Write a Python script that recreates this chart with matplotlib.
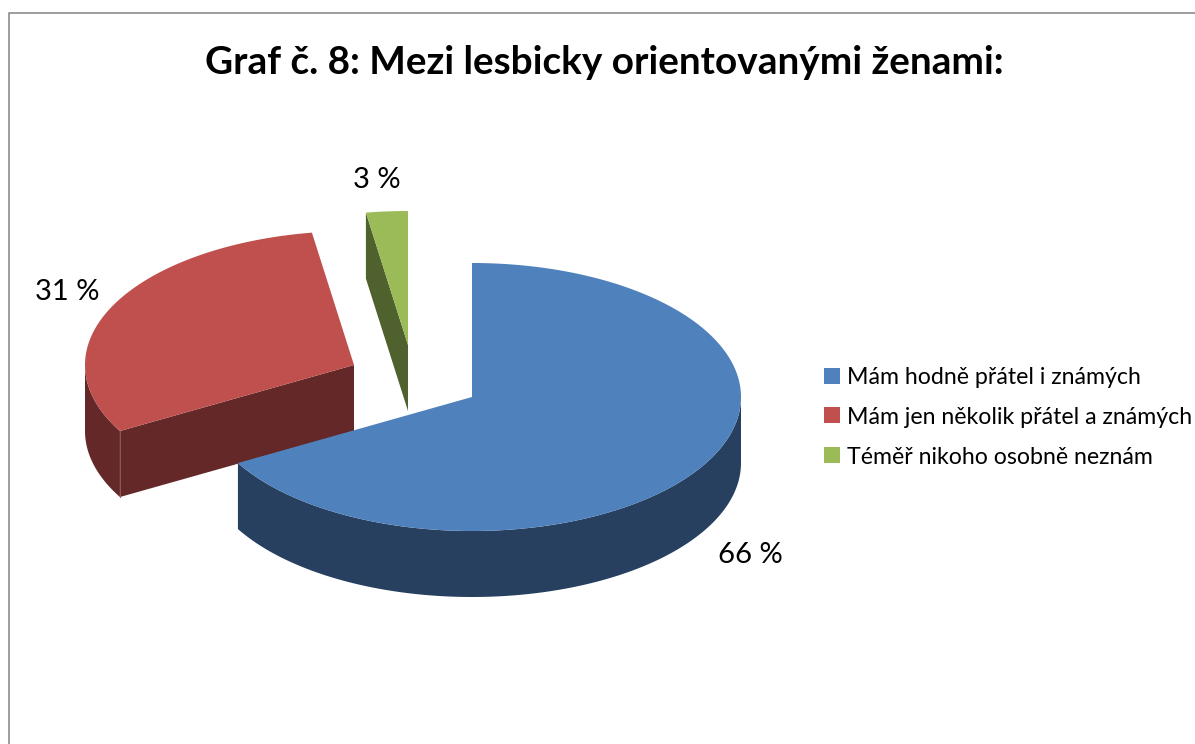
import numpy as np
import matplotlib
matplotlib.use("Agg")
import matplotlib.pyplot as plt
from matplotlib.patches import Polygon, Rectangle

plt.rcParams["font.family"] = ["Lato", "DejaVu Sans"]

title = "Graf č. 8: Mezi lesbicky orientovanými ženami:"
categories = ["Mám hodně přátel i známých", "Mám jen několik přátel a známých", "Téměř nikoho osobně neznám"]
shares = [66.8, 30.7, 2.5]
share_labels = ["66 %", "31 %", "3 %"]

top_colors = ["#4F81BD", "#C0504D", "#9BBB59"]
side_colors = ["#274060", "#632827", "#4F612C"]
apexes = [(472, 397), (354, 365), (408, 345)]
label_pos = [(750, 555), (67, 292), (377, 180)]
legend_y = [376, 415, 455]

RX, RY, DEPTH = 269, 134, 66


def rim(apex, t):
    # t in degrees, clockwise from the top of the ellipse
    t = np.radians(t)
    return np.column_stack([apex[0] + RX * np.sin(t), apex[1] - RY * np.cos(t)])


def drop(pts):
    return pts + np.array([0, DEPTH])


fig = plt.figure(figsize=(11.95, 7.44), dpi=100)
ax = fig.add_axes([0, 0, 1, 1])
ax.set_xlim(0, 1195)
ax.set_ylim(744, 0)
ax.axis("off")

# chart frame, runs off the right and bottom of the picture
ax.plot([9.5, 9.5, 1195], [744, 12.5, 12.5], color="#8C8C8C", lw=1.2)

ax.text(604, 62, title, ha="center", va="center", fontsize=27.9, fontweight="bold", color="black")

# slices back to front: red, green, blue
edges = np.cumsum([0] + shares) / sum(shares) * 360
for i in [1, 2, 0]:
    start, end = edges[i], edges[i + 1]
    apex = np.array(apexes[i], dtype=float)

    # cut face at the start angle
    p = rim(apex, start)[0]
    face = np.array([apex, p, p + [0, DEPTH], apex + [0, DEPTH]])
    ax.add_patch(Polygon(face, closed=True, fc=side_colors[i], ec="none"))

    # outer wall, only the part that faces the viewer
    a, b = max(start, 90), min(end, 270)
    if a < b:
        arc = rim(apex, np.linspace(a, b, 200))
        wall = np.vstack([arc, drop(arc)[::-1]])
        ax.add_patch(Polygon(wall, closed=True, fc=side_colors[i], ec="none"))
        if i == 1:
            ax.plot([p[0], p[0]], [p[1], p[1] + DEPTH], color="#8A5A58", lw=0.7)

    arc = rim(apex, np.linspace(start, end, 300))
    ax.add_patch(Polygon(np.vstack([apex, arc]), closed=True, fc=top_colors[i], ec="none"))

for txt, (x, y) in zip(share_labels, label_pos):
    ax.text(x, y, txt, ha="center", va="center", fontsize=21, color="black")

for name, col, y in zip(categories, top_colors, legend_y):
    ax.add_patch(Rectangle((824, y - 8), 16, 16, fc=col, ec="none"))
    ax.text(847, y + 2, name, ha="left", va="center", fontsize=16.7, color="black")

fig.savefig("out.png", dpi=100)
